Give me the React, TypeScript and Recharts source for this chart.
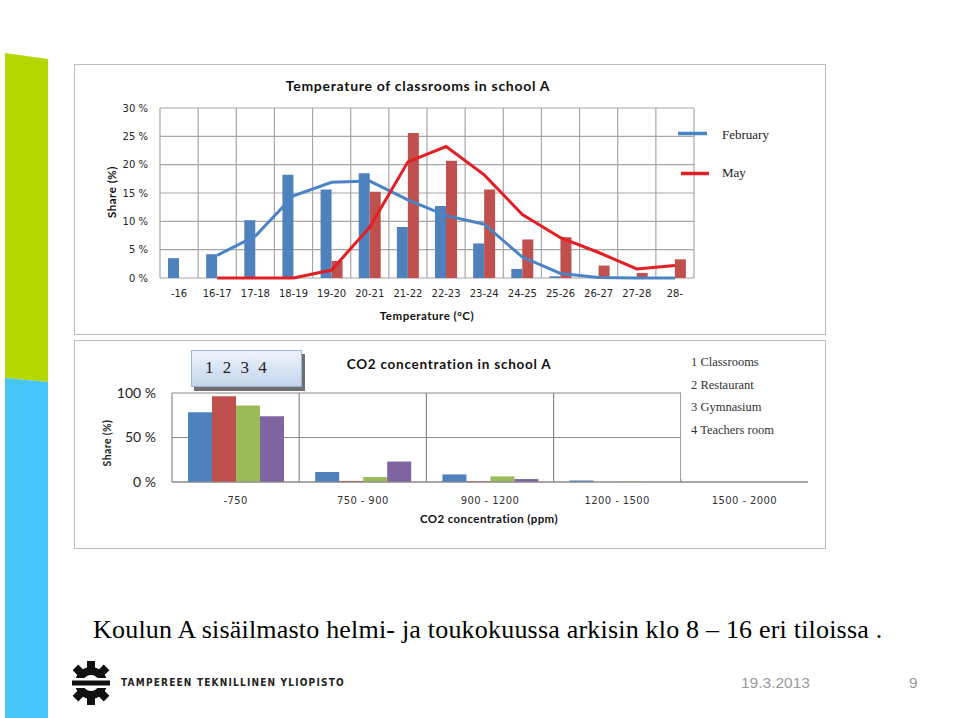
import { Bar, BarChart, CartesianGrid, ComposedChart, Line, XAxis, YAxis } from "recharts"

// --- temperature chart (school A, classrooms) ---
const tempCategories = ["-16", "16-17", "17-18", "18-19", "19-20", "20-21", "21-22", "22-23", "23-24", "24-25", "25-26", "26-27", "27-28", "28-"]
const februaryShare = [3.5, 4.2, 10.2, 18.2, 15.6, 18.5, 9.0, 12.7, 6.1, 1.6, 0.3, 0, 0, 0]
const mayShare = [0, 0, 0, 0, 3.0, 15.2, 25.6, 20.7, 15.6, 6.8, 7.2, 2.2, 0.9, 3.3]
const februaryTrend = [null, 4.0, 7.4, 14.5, 16.9, 17.1, 13.8, 11.0, 9.5, 3.7, 0.8, 0.1, 0, 0]
const mayTrend = [null, 0, 0, 0, 1.4, 9.0, 20.5, 23.2, 18.2, 11.2, 7.1, 4.5, 1.6, 2.2]
const tempShareTicks = [0, 5, 10, 15, 20, 25, 30]

// --- CO2 chart ---
const co2Categories = ["-750", "750 - 900", "900 - 1200", "1200 - 1500", "1500 - 2000"]
const classrooms = [78.5, 11.2, 8.5, 1.8, 0]
const restaurant = [96.3, 1.2, 0.8, 0, 0]
const gymnasium = [86, 5.6, 6.3, 0.5, 0]
const teachersRoom = [74, 23, 3.3, 0, 0]
const co2ShareTicks = [0, 50, 100]
const roomNames = ["1 Classrooms", "2 Restaurant", "3 Gymnasium", "4 Teachers room"]

const tempData = tempCategories.map((name, i) => ({
    name,
    feb: februaryShare[i],
    may: mayShare[i],
    febTrend: februaryTrend[i],
    mayTrend: mayTrend[i],
}))

const co2Data = co2Categories.map((name, i) => ({
    name,
    r1: classrooms[i],
    r2: restaurant[i],
    r3: gymnasium[i],
    r4: teachersRoom[i],
}))

const boundaries = (count: number, last = count) => (props: any) => {
    const { offset } = props
    const out: number[] = []
    for (let i = 0; i <= last; i++) out.push(offset.left + (i * offset.width) / count)
    return out
}

const frame: React.CSSProperties = {
    position: "absolute",
    border: "1.5px solid #bdbdbd",
    boxSizing: "border-box",
}

const abs = (left: number, top: number, extra: React.CSSProperties = {}): React.CSSProperties => ({
    position: "absolute",
    left,
    top,
    whiteSpace: "nowrap",
    ...extra,
})

const Gear = () => {
    const teeth = [0, 45, 90, 135, 180, 225, 270, 315]
    return (
        <svg width={48} height={50} style={{ position: "absolute", left: 67, top: 658 }}>
            <g transform="translate(24,25)">
                {teeth.map((a) => (
                    <rect key={a} x={-4} y={-22} width={8} height={10} fill="#111" transform={`rotate(${a})`} />
                ))}
                <circle r={16} fill="#111" />
                <circle r={8} fill="#fff" />
                <rect x={-23} y={-5} width={46} height={10} fill="#fff" />
                <rect x={-19} y={-2.5} width={38} height={5} fill="#111" />
            </g>
        </svg>
    )
}

export default function App() {
    return (
        <div style={{ position: "absolute", left: 0, top: 0, width: 959, height: 718, background: "#fff", overflow: "hidden", fontFamily: "Lato" }}>
            <svg width={60} height={718} style={{ position: "absolute", left: 0, top: 0 }}>
                <polygon points="5,53 48,59 48,382 5,378" fill="#B5D700" />
                <polygon points="5,378 48,382 48,718 5,718" fill="#46C6F8" />
            </svg>

            {/* temperature chart */}
            <div style={{ ...frame, left: 74, top: 64, width: 752, height: 271 }} />
            <div style={{ position: "absolute", left: 74, top: 64 }}>
                <ComposedChart
                    width={752}
                    height={271}
                    data={tempData}
                    margin={{ top: 44, right: 132, bottom: 0, left: 0 }}
                    barCategoryGap={8}
                    barGap={0}
                >
                    <CartesianGrid stroke="#a6a6a6" strokeWidth={1.2} verticalCoordinatesGenerator={boundaries(tempCategories.length)} />
                    <XAxis
                        dataKey="name"
                        height={57}
                        tickLine={false}
                        axisLine={false}
                        tickSize={0}
                        tickMargin={12}
                        interval={0}
                        tick={{ fontSize: 10, fill: "#262626", fontFamily: "DejaVu Sans" }}
                    />
                    <YAxis
                        width={86}
                        domain={[0, 30]}
                        ticks={tempShareTicks}
                        tickLine={false}
                        axisLine={false}
                        tickSize={0}
                        tickMargin={12}
                        tickFormatter={(v) => `${v} %`}
                        tick={{ fontSize: 10, fill: "#262626", fontFamily: "DejaVu Sans" }}
                    />
                    <Bar dataKey="feb" fill="#4F81BD" isAnimationActive={false} />
                    <Bar dataKey="may" fill="#C0504D" isAnimationActive={false} />
                    <Line type="linear" dataKey="febTrend" stroke="#4A84C6" strokeWidth={3} dot={false} isAnimationActive={false} />
                    <Line type="linear" dataKey="mayTrend" stroke="#E31E24" strokeWidth={3} dot={false} isAnimationActive={false} />
                </ComposedChart>
            </div>
            <div style={abs(418, 77, { transform: "translateX(-50%)", fontWeight: 700, fontSize: 14, letterSpacing: 0.7, color: "#111" })}>
                Temperature of classrooms in school A
            </div>
            <div style={abs(111, 192, { transform: "translate(-50%,-50%) rotate(-90deg)", fontWeight: 700, fontSize: 11.5, letterSpacing: 0.5, color: "#111" })}>
                Share (%)
            </div>
            <div style={abs(427, 309, { transform: "translateX(-50%)", fontWeight: 700, fontSize: 11.5, letterSpacing: 0.5, color: "#111" })}>
                Temperature (ºC)
            </div>
            <svg width={40} height={60} style={{ position: "absolute", left: 676, top: 124 }}>
                <line x1={2} y1={9.5} x2={31} y2={9.5} stroke="#4A84C6" strokeWidth={3.5} />
                <line x1={5} y1={49.5} x2={33} y2={49.5} stroke="#E31E24" strokeWidth={3.5} />
            </svg>
            <div style={abs(722, 127, { fontFamily: "Liberation Serif", fontSize: 13, color: "#222" })}>February</div>
            <div style={abs(722, 165, { fontFamily: "Liberation Serif", fontSize: 13, color: "#222" })}>May</div>

            {/* CO2 chart */}
            <div style={{ ...frame, left: 74, top: 340, width: 752, height: 209 }} />
            <div style={{ position: "absolute", left: 74, top: 340 }}>
                <BarChart
                    width={752}
                    height={209}
                    data={co2Data}
                    margin={{ top: 53, right: 18, bottom: 0, left: 0 }}
                    barCategoryGap={16}
                    barGap={0}
                >
                    <CartesianGrid stroke="#8a8a8a" strokeWidth={1.2} verticalCoordinatesGenerator={boundaries(co2Categories.length, co2Categories.length - 1)} />
                    <XAxis
                        dataKey="name"
                        height={67}
                        tickLine={false}
                        axisLine={{ stroke: "#8a8a8a", strokeWidth: 1.2 }}
                        tickSize={0}
                        tickMargin={15}
                        interval={0}
                        tick={{ fontSize: 10, fill: "#333", fontFamily: "DejaVu Sans", letterSpacing: 0.4 }}
                    />
                    <YAxis
                        width={98}
                        domain={[0, 100]}
                        ticks={co2ShareTicks}
                        tickLine={false}
                        axisLine={false}
                        tickSize={0}
                        tickMargin={16}
                        tickFormatter={(v) => `${v} %`}
                        tick={{ fontSize: 14, fill: "#222", fontFamily: "Lato" }}
                    />
                    <Bar dataKey="r1" fill="#4F81BD" isAnimationActive={false} />
                    <Bar dataKey="r2" fill="#C0504D" isAnimationActive={false} />
                    <Bar dataKey="r3" fill="#9BBB59" isAnimationActive={false} />
                    <Bar dataKey="r4" fill="#8064A2" isAnimationActive={false} />
                </BarChart>
            </div>
            {/* legend panel covering the right part of the plot */}
            <div style={{ position: "absolute", left: 681, top: 348, width: 140, height: 131, background: "#fff" }}>
                {roomNames.map((r, i) => (
                    <div key={r} style={abs(10, 7 + i * 22.6, { fontFamily: "Liberation Serif", fontSize: 12.5, color: "#333" })}>
                        {r}
                    </div>
                ))}
            </div>
            <div
                style={{
                    position: "absolute",
                    left: 191,
                    top: 350,
                    width: 111,
                    height: 37,
                    boxSizing: "border-box",
                    border: "1px solid #9bb5d8",
                    background: "linear-gradient(#eef3fb, #c3d5ec)",
                    boxShadow: "3px 4px 0 #6f6f6f",
                    fontFamily: "Liberation Serif",
                    fontSize: 17,
                    color: "#222",
                    paddingLeft: 13,
                    lineHeight: "34px",
                    wordSpacing: 5,
                }}
            >
                1 2 3 4
            </div>
            <div style={abs(449, 356, { transform: "translateX(-50%)", fontWeight: 700, fontSize: 13.5, letterSpacing: 0.75, color: "#111" })}>
                CO2 concentration in school A
            </div>
            <div style={abs(107, 443, { transform: "translate(-50%,-50%) rotate(-90deg)", fontWeight: 700, fontSize: 10.5, letterSpacing: 0.4, color: "#222" })}>
                Share (%)
            </div>
            <div style={abs(489, 512, { transform: "translateX(-50%)", fontWeight: 700, fontSize: 11.5, letterSpacing: 0.4, color: "#111" })}>
                CO2 concentration (ppm)
            </div>

            {/* slide footer */}
            <div style={abs(93, 615, { fontFamily: "Liberation Serif", fontSize: 26, letterSpacing: 0.2, color: "#000" })}>
                Koulun A sisäilmasto helmi- ja toukokuussa arkisin klo 8 – 16 eri tiloissa .
            </div>
            <Gear />
            <div style={abs(121, 677, { fontFamily: "DejaVu Sans Condensed", fontWeight: 700, fontSize: 10, letterSpacing: 1.2, color: "#222" })}>
                TAMPEREEN TEKNILLINEN YLIOPISTO
            </div>
            <div style={abs(741, 674, { fontFamily: "Liberation Sans", fontSize: 15.5, color: "#9a9a9a" })}>19.3.2013</div>
            <div style={abs(909, 674, { fontFamily: "Liberation Sans", fontSize: 15.5, color: "#9a9a9a" })}>9</div>
        </div>
    )
}
